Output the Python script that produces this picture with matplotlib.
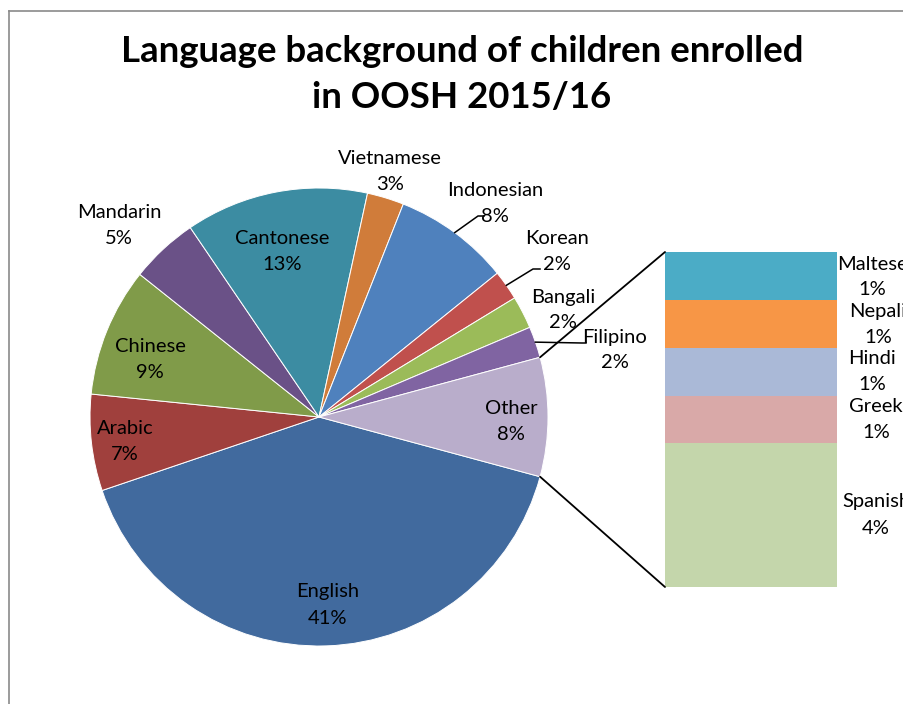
import matplotlib
matplotlib.use("Agg")
import matplotlib.pyplot as plt
from matplotlib.patches import ConnectionPatch
from matplotlib.lines import Line2D
import numpy as np

# ---------------- data ----------------
pie_labels = ["English", "Arabic", "Chinese", "Mandarin", "Cantonese", "Vietnamese",
              "Indonesian", "Korean", "Bangali", "Filipino", "Other"]
pie_values = [40.6, 6.8, 9.1, 4.8, 12.9, 2.6, 8.2, 2.1, 2.3, 2.2, 8.4]
pie_colors = ["#416A9E", "#A0403D", "#809B49", "#6A5187", "#3C8CA2", "#D07C3A",
              "#4F81BD", "#C0504D", "#9BBB59", "#8064A2", "#B9ADCB"]

bar_labels = ["Spanish", "Greek", "Hindi", "Nepali", "Maltese"]
bar_values = [3.6, 1.2, 1.2, 1.2, 1.2]
bar_colors = ["#C4D6AB", "#D9A9A8", "#AAB9D7", "#F79646", "#4BACC6"]

title_lines = ["Language background of children enrolled", "in OOSH 2015/16"]

# ---------------- layout ----------------
W, H = 904, 704
FONT = "Lato"
plt.rcParams["font.family"] = [FONT, "DejaVu Sans"]

fig = plt.figure(figsize=(W / 100, H / 100), dpi=100)

def fx(x):
    return x / W

def fy(y):
    return 1 - y / H

# chart border (left + top visible)
fig.add_artist(Line2D([fx(8.5), fx(8.5)], [fy(10.5), fy(704)], color="#8A8A8A", lw=1.2))
fig.add_artist(Line2D([fx(8.5), fx(904)], [fy(10.5), fy(10.5)], color="#8A8A8A", lw=1.2))

# pie axes
cx, cy, r = 319, 417, 229
ax = fig.add_axes([fx(cx - r), fy(cy + r), 2 * r / W, 2 * r / H])
total = sum(pie_values)
other_half = pie_values[-1] / total * 360 / 2
wedges, _ = ax.pie(pie_values, colors=pie_colors, startangle=-other_half, counterclock=False,
                   wedgeprops=dict(edgecolor="white", linewidth=0.7))
ax.set_xlim(-1, 1)
ax.set_ylim(-1, 1)
ax.set_aspect("auto")
ax.axis("off")

# bar axes
bx0, bx1, by0, by1 = 665, 837, 252, 587
bax = fig.add_axes([fx(bx0), fy(by1), (bx1 - bx0) / W, (by1 - by0) / H])
bottom = 0
for v, c in zip(bar_values, bar_colors):
    bax.bar(0, v, bottom=bottom, width=1, color=c, edgecolor="none")
    bottom += v
bax.set_xlim(-0.5, 0.5)
bax.set_ylim(0, sum(bar_values))
bax.axis("off")

# connecting lines
o = wedges[-1]
for ang, yb in [(o.theta2, sum(bar_values)), (o.theta1, 0)]:
    pt = (np.cos(np.radians(ang)), np.sin(np.radians(ang)))
    con = ConnectionPatch(xyA=pt, coordsA=ax.transData, xyB=(-0.5, yb), coordsB=bax.transData,
                          color="black", lw=1.3)
    fig.add_artist(con)

# title (each line placed separately)
for line, y in zip(title_lines, [51, 98]):
    fig.text(fx(462), fy(y), line, ha="center", va="center", fontsize=26.4,
             fontweight="bold", color="black")

# data labels (pixel positions of label centres: name line, value line)
label_pos = {
    "English": (328, 592), "Arabic": (125, 428), "Chinese": (150, 347),
    "Mandarin": (119, 212), "Cantonese": (282, 238), "Vietnamese": (390, 158),
    "Indonesian": (495, 190), "Korean": (557, 239), "Bangali": (563, 297),
    "Filipino": (615, 337), "Other": (511, 409),
}
FS = 14.5
GAP = 26
for name, v in zip(pie_labels, pie_values):
    x, y = label_pos[name]
    fig.text(fx(x), fy(y), name, ha="center", va="center", fontsize=FS, color="black")
    fig.text(fx(x), fy(y + GAP), f"{round(v / total * 100):.0f}%", ha="center", va="center",
             fontsize=FS, color="black")

bar_pos = {"Maltese": (872, 264), "Nepali": (878, 311), "Hindi": (872, 358),
           "Greek": (876, 406), "Spanish": (876, 502)}
for name, v in zip(bar_labels, bar_values):
    x, y = bar_pos[name]
    fig.text(fx(x), fy(y), name, ha="center", va="center", fontsize=FS, color="black")
    fig.text(fx(x), fy(y + GAP), f"{round(v / total * 100):.0f}%", ha="center", va="center",
             fontsize=FS, color="black")

# leader lines for outside labels
leaders = {"Indonesian": [(478, 216), (484, 216)],
           "Korean": [(533, 269), (540, 269)],
           "Filipino": [(582, 343), (586, 343)]}
for i, name in enumerate(pie_labels):
    if name in leaders:
        w = wedges[i]
        mid = np.radians((w.theta1 + w.theta2) / 2)
        px = cx + r * np.cos(mid)
        py = cy - r * np.sin(mid)
        pts = [(px, py)] + leaders[name]
        fig.add_artist(Line2D([fx(p[0]) for p in pts], [fy(p[1]) for p in pts],
                              color="black", lw=1.1))

fig.savefig("out.png", dpi=100)
